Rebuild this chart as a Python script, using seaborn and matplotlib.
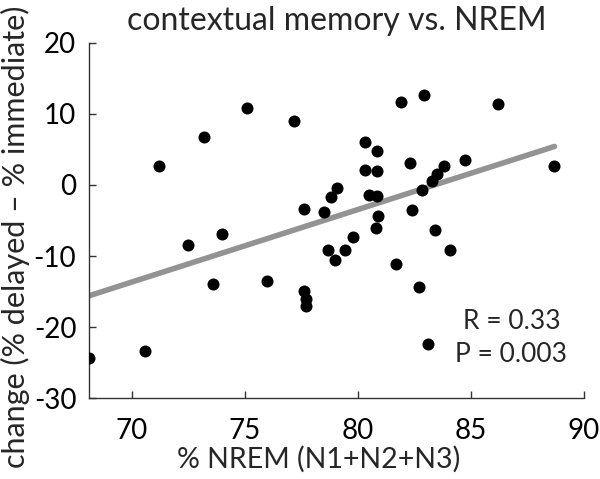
import matplotlib
matplotlib.use("Agg")
import matplotlib.pyplot as plt
import seaborn as sns
import pandas as pd

sns.set_style("ticks")
plt.rcParams['font.family'] = ['Lato', 'DejaVu Sans']
plt.rcParams['axes.unicode_minus'] = False

# % NREM per subject and change in contextual memory (delayed - immediate)
nrem = [68.1, 70.6, 71.2, 72.5, 73.2, 73.6, 74.0, 75.1, 76.0, 77.2,
        77.6, 77.6, 77.7, 77.7, 78.5, 78.7, 78.8, 79.0, 79.1, 79.45,
        79.8, 80.3, 80.3, 80.5, 80.85, 80.87, 80.85, 80.9, 80.8, 81.7,
        81.9, 82.3, 82.4, 82.7, 82.85, 82.95, 83.1, 83.3, 83.4, 83.5,
        83.8, 84.1, 84.75, 86.2, 88.7]
change = [-24.4, -23.3, 2.6, -8.5, 6.7, -13.9, -6.9, 10.8, -13.5, 9.0,
          -3.4, -14.9, -16.0, -17.0, -3.8, -9.2, -1.7, -10.6, -0.4, -9.2,
          -7.3, 6.1, 2.1, -1.4, 4.7, 2.0, -1.6, -4.4, -6.0, -11.1,
          11.7, 3.1, -3.5, -14.3, -0.7, 12.7, -22.3, 0.6, -6.4, 1.6,
          2.6, -9.1, 3.5, 11.4, 2.7]
# fitted line as drawn in the figure (end points)
fit_x = [68.1, 88.7]
fit_y = [-15.6, 5.4]
r_text = "R = 0.33"
p_text = "P = 0.003"

df = pd.DataFrame({"nrem": nrem, "change": change})
fit = pd.DataFrame({"nrem": fit_x, "change": fit_y})

fig = plt.figure(figsize=(6, 4.79), dpi=100)
ax = fig.add_axes([0.148, 0.1685, 0.825, 0.7425])

sns.lineplot(data=fit, x="nrem", y="change", color="#939393", linewidth=4,
             ax=ax, zorder=2)
sns.scatterplot(data=df, x="nrem", y="change", color="black", s=75,
                linewidth=0, ax=ax, zorder=3)

ax.set_xlim(68.1, 90)
ax.set_ylim(-30, 20)
ax.set_xticks([70, 75, 80, 85, 90])
ax.set_yticks([-30, -20, -10, 0, 10, 20])
ax.tick_params(direction="in", length=5, width=1, colors="#333333",
               labelsize=20, labelcolor="black", pad=9)
ax.tick_params(axis="x", pad=14)
for side in ["top", "right"]:
    ax.spines[side].set_visible(False)
for side in ["left", "bottom"]:
    ax.spines[side].set_color("#333333")
    ax.spines[side].set_linewidth(1)

ax.set_xlabel("% NREM (N1+N2+N3)", fontsize=20.5)
ax.xaxis.set_label_coords(0.465, -0.135)
ax.set_ylabel("change (% delayed \u2013 % immediate)", fontsize=22)
ax.yaxis.set_label_coords(-0.118, 0.455)
ax.set_title("contextual memory vs. NREM", fontsize=23, pad=9)
ax.text(86.8, -19.2, r_text, ha="center", va="center", fontsize=19)
ax.text(86.8, -23.8, p_text, ha="center", va="center", fontsize=19)

fig.savefig("out.png", dpi=100)
